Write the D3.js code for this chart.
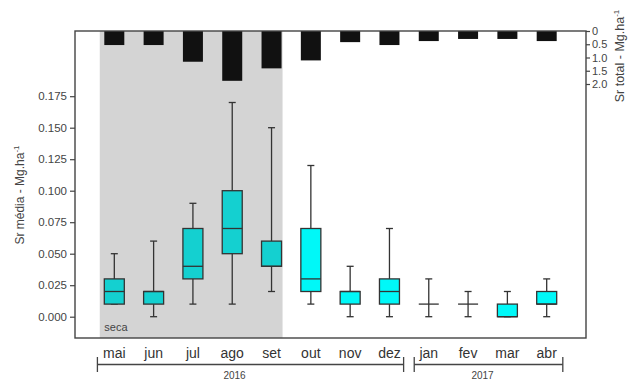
<!DOCTYPE html>
<html><head><meta charset="utf-8">
<script src="https://cdn.jsdelivr.net/npm/d3@7"></script>
<style>body{margin:0;background:#fff}svg{display:block;font-family:"Liberation Sans",Arial,sans-serif}</style>
</head><body><svg id="c" width="633" height="381"></svg>
<script>
const months = ["mai","jun","jul","ago","set","out","nov","dez","jan","fev","mar","abr"];
const wMin = [0.01,0.00,0.01,0.01,0.02,0.01,0.00,0.00,0.00,0.00,0.00,0.00];
const q1   = [0.01,0.01,0.03,0.05,0.04,0.02,0.01,0.01,0.01,0.01,0.00,0.01];
const med  = [0.02,0.02,0.04,0.07,0.04,0.03,0.02,0.02,0.01,0.01,0.00,0.01];
const q3   = [0.03,0.02,0.07,0.10,0.06,0.07,0.02,0.03,0.01,0.01,0.01,0.02];
const wMax = [0.05,0.06,0.09,0.17,0.15,0.12,0.04,0.07,0.03,0.02,0.02,0.03];
const total = [0.53,0.53,1.16,1.88,1.41,1.11,0.42,0.53,0.38,0.30,0.30,0.38];
const leftTicks = [0,0.025,0.05,0.075,0.1,0.125,0.15,0.175];
const rightTicks = [0,0.5,1.0,1.5,2.0];
const dryMonths = ["mai","set"];
const years = [{label:"2016",from:"mai",to:"dez"},{label:"2017",from:"jan",to:"abr"}];

const svg = d3.select("#c");
const L=75, R=586, T=31, B=338;
const x = d3.scalePoint().domain(months).range([L,R]).padding(1);
const step = x.step();
const y = d3.scaleLinear().domain([0,0.175]).range([316.7,96.2]);
const yT = d3.scaleLinear().domain([0,2]).range([T,84]);
const bw = 20;
const textCol = "#444";

// dry season shading
svg.append("rect").attr("x", x(dryMonths[0]) - 0.37*step).attr("y", T)
  .attr("width", x(dryMonths[1]) + 0.28*step - (x(dryMonths[0]) - 0.37*step))
  .attr("height", B-T).attr("fill","#d4d4d4");
svg.append("text").attr("x", x("mai")-10).attr("y", 331).attr("font-size",11).attr("fill",textCol).text("seca");

const dryIdx = i => i <= months.indexOf(dryMonths[1]);

// total bars (from top)
svg.selectAll(".tb").data(months).join("rect")
  .attr("x", d=>x(d)-bw/2).attr("y", yT(0)).attr("width", bw)
  .attr("height", (d,i)=>yT(total[i])-yT(0)).attr("fill","#111");

// boxplots
const g = svg.append("g").attr("stroke","#333").attr("stroke-width",1.3);
months.forEach((m,i)=>{
  const cx = x(m);
  const cap = 7;
  g.append("line").attr("x1",cx).attr("x2",cx).attr("y1",y(wMax[i])).attr("y2",y(q3[i]));
  g.append("line").attr("x1",cx).attr("x2",cx).attr("y1",y(q1[i])).attr("y2",y(wMin[i]));
  g.append("line").attr("x1",cx-cap/2).attr("x2",cx+cap/2).attr("y1",y(wMax[i])).attr("y2",y(wMax[i]));
  g.append("line").attr("x1",cx-cap/2).attr("x2",cx+cap/2).attr("y1",y(wMin[i])).attr("y2",y(wMin[i]));
  if (q3[i] > q1[i]) {
    g.append("rect").attr("x",cx-bw/2).attr("y",y(q3[i])).attr("width",bw)
      .attr("height",y(q1[i])-y(q3[i])).attr("fill", dryIdx(i) ? "#14d0d0" : "#00f8f8");
  }
  g.append("line").attr("x1",cx-bw/2).attr("x2",cx+bw/2).attr("y1",y(med[i])).attr("y2",y(med[i]));
});

// frame
svg.append("rect").attr("x",L).attr("y",T).attr("width",R-L).attr("height",B-T)
  .attr("fill","none").attr("stroke","#444").attr("stroke-width",1.4);

// left axis
const la = svg.append("g").attr("transform",`translate(${L},0)`)
  .call(d3.axisLeft(y).tickValues(leftTicks).tickFormat(d3.format(".3f")).tickSize(5).tickPadding(3));
la.select(".domain").remove();
la.selectAll("line").attr("stroke","#444").attr("stroke-width",1.2);
la.selectAll("text").attr("font-size",11.5).attr("fill",textCol).attr("font-family","Liberation Sans, Arial, sans-serif");

// right axis
const ra = svg.append("g").attr("transform",`translate(${R},0)`)
  .call(d3.axisRight(yT).tickValues(rightTicks).tickFormat(d=> d===0 ? "0" : d3.format(".1f")(d)).tickSize(4).tickPadding(2));
ra.select(".domain").remove();
ra.selectAll("line").attr("stroke","#444").attr("stroke-width",1.2);
ra.selectAll("text").attr("font-size",11).attr("fill",textCol).attr("font-family","Liberation Sans, Arial, sans-serif");

// x labels
svg.selectAll(".xl").data(months).join("text")
  .attr("x", d=>x(d)).attr("y", 358).attr("text-anchor","middle")
  .attr("font-size",14).attr("fill","#333").text(d=>d);

// year brackets
const yb = svg.append("g").attr("stroke","#444").attr("stroke-width",1.3);
years.forEach((yr,k)=>{
  const x0 = x(yr.from) - (k===0 ? 0.43*step : 0.37*step);
  const x1 = x(yr.to) + (k===0 ? 0.36*step : 0.41*step);
  yb.append("line").attr("x1",x0).attr("x2",x1).attr("y1",364.5).attr("y2",364.5);
  yb.append("line").attr("x1",x0).attr("x2",x0).attr("y1",357).attr("y2",372);
  yb.append("line").attr("x1",x1).attr("x2",x1).attr("y1",357).attr("y2",372);
  svg.append("text").attr("x",(x0+x1)/2 - (k===0?16:6)).attr("y",379).attr("text-anchor","middle")
    .attr("font-size",10).attr("fill",textCol).text(yr.label);
});

// axis titles
const lt = svg.append("text").attr("transform","translate(24,195) rotate(-90)").attr("text-anchor","middle")
  .attr("font-size",12).attr("fill",textCol);
lt.append("tspan").text("Sr média - Mg.ha");
lt.append("tspan").attr("dy",-5).attr("font-size",8).text("-1");
const rt = svg.append("text").attr("transform","translate(624,56) rotate(-90)").attr("text-anchor","middle")
  .attr("font-size",12.5).attr("fill",textCol);
rt.append("tspan").text("Sr total - Mg.ha");
rt.append("tspan").attr("dy",-5).attr("font-size",8).text("-1");
</script></body></html>
